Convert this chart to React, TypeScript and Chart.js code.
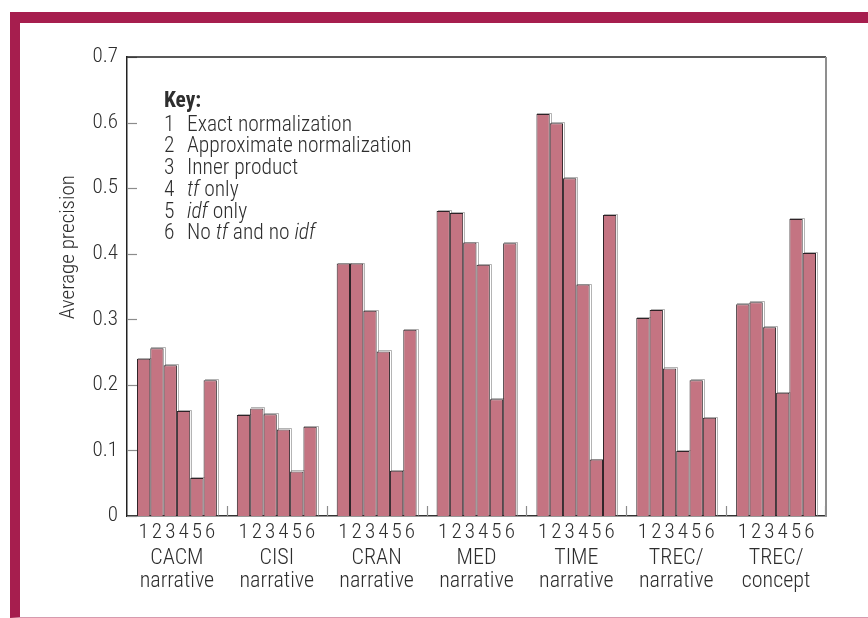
import React, { useEffect, useRef } from "react";
import { Chart, registerables } from "chart.js";

Chart.register(...registerables);

// ---- data ----
const collections = [
  ["CACM", "narrative"],
  ["CISI", "narrative"],
  ["CRAN", "narrative"],
  ["MED", "narrative"],
  ["TIME", "narrative"],
  ["TREC/", "narrative"],
  ["TREC/", "concept"],
];
const methodNumbers = ["1", "2", "3", "4", "5", "6"];
const exactNormalization = [0.24, 0.154, 0.385, 0.465, 0.613, 0.302, 0.323];
const approximateNormalization = [0.256, 0.164, 0.385, 0.462, 0.599, 0.314, 0.326];
const innerProduct = [0.23, 0.155, 0.313, 0.417, 0.515, 0.225, 0.288];
const tfOnly = [0.16, 0.132, 0.251, 0.383, 0.353, 0.099, 0.188];
const idfOnly = [0.058, 0.068, 0.069, 0.178, 0.086, 0.207, 0.453];
const noTfNoIdf = [0.207, 0.136, 0.284, 0.416, 0.459, 0.15, 0.401];
const yMin = 0;
const yMax = 0.7;
const yStep = 0.1;
const yTitle = "Average precision";

const FONT = '"Roboto Condensed", Roboto, sans-serif';
const WEIGHT = 300;
const TEXT = "#2e2e2e";
const BAR_FILL = "#c47482";
const BAR_EDGE = "#2e2327";
const FRAME = "#a61e4e";

const decor = {
  id: "decor",
  beforeDatasetsDraw(chart: any) {
    const { ctx, chartArea: a, scales } = chart;
    const x = scales.x;
    const y = scales.y;
    ctx.save();
    ctx.strokeStyle = "#8c8c8c";
    ctx.lineWidth = 1.2;
    y.ticks.forEach((t: any) => {
      const py = Math.round(y.getPixelForValue(t.value)) + 0.5;
      ctx.beginPath();
      ctx.moveTo(a.left, py);
      ctx.lineTo(a.left + 10, py);
      ctx.stroke();
    });
    const n = chart.data.labels.length;
    for (let i = 1; i <= n; i++) {
      let px: number;
      if (i < n) px = (x.getPixelForValue(i - 1) + x.getPixelForValue(i)) / 2;
      else px = a.right - 1;
      px = Math.round(px) + 0.5;
      ctx.beginPath();
      ctx.moveTo(px, a.bottom);
      ctx.lineTo(px, a.bottom - 10);
      ctx.stroke();
    }
    // soft grey shadow to the upper right of each bar (covered by later bars)
    ctx.strokeStyle = "rgba(130,130,130,0.6)";
    ctx.lineWidth = 1;
    chart.data.datasets.forEach((ds: any, d: number) => {
      const meta = chart.getDatasetMeta(d);
      meta.data.forEach((bar: any) => {
        const rx = Math.round(bar.x + bar.width / 2) + 1.5;
        const ty = Math.round(bar.y) - 0.5;
        ctx.beginPath();
        ctx.moveTo(Math.round(bar.x - bar.width / 2) + 1, ty);
        ctx.lineTo(rx, ty);
        ctx.lineTo(rx, a.bottom);
        ctx.stroke();
      });
    });
    ctx.restore();
  },
  afterDatasetsDraw(chart: any) {
    const { ctx, chartArea: a, scales } = chart;
    const y = scales.y;
    ctx.save();
    // frame top and right
    ctx.strokeStyle = "#222";
    ctx.lineWidth = 1.5;
    ctx.beginPath();
    ctx.moveTo(a.left, a.top);
    ctx.lineTo(a.right, a.top);
    ctx.stroke();
    ctx.strokeStyle = "#8f8f8f";
    ctx.lineWidth = 2;
    ctx.beginPath();
    ctx.moveTo(a.right, a.top);
    ctx.lineTo(a.right, a.bottom);
    ctx.stroke();
    // method numbers under each bar
    ctx.fillStyle = TEXT;
    ctx.font = `${WEIGHT} 21px ${FONT}`;
    ctx.textAlign = "center";
    ctx.textBaseline = "middle";
    chart.data.datasets.forEach((ds: any, d: number) => {
      const meta = chart.getDatasetMeta(d);
      meta.data.forEach((bar: any) => {
        ctx.fillText(methodNumbers[d], bar.x, a.bottom + 17);
      });
    });
    // y-axis title, placed a little above the middle as in the original
    ctx.translate(69, y.getPixelForValue(0.41));
    ctx.rotate(-Math.PI / 2);
    ctx.font = `${WEIGHT} 21px ${FONT}`;
    ctx.fillText(yTitle, 0, 0);
    ctx.restore();
  },
};

export default function App() {
  const ref = useRef<HTMLCanvasElement>(null);
  useEffect(() => {
    if (!ref.current) return;
    const series = [
      exactNormalization,
      approximateNormalization,
      innerProduct,
      tfOnly,
      idfOnly,
      noTfNoIdf,
    ];
    const chart = new Chart(ref.current, {
      type: "bar",
      data: {
        labels: collections,
        datasets: series.map((s, i) => ({
          label: methodNumbers[i],
          data: s,
          backgroundColor: BAR_FILL,
          borderColor: BAR_EDGE,
          borderWidth: 1,
          categoryPercentage: 0.8,
          barPercentage: 1.0,
        })),
      },
      options: {
        responsive: false,
        animation: false,
        devicePixelRatio: 1,
        layout: { padding: { left: 0, top: 57, right: 42, bottom: 0 } },
        plugins: { legend: { display: false }, tooltip: { enabled: false } },
        scales: {
          x: {
            grid: { display: false, drawTicks: false },
            border: { display: true, color: "#333", width: 1.5 },
            ticks: {
              color: TEXT,
              font: { family: FONT, size: 22, weight: WEIGHT, lineHeight: 1.05 },
              padding: 31,
              maxRotation: 0,
              autoSkip: false,
            },
            afterFit: (s: any) => {
              s.height = 102;
            },
          },
          y: {
            min: yMin,
            max: yMax,
            grid: { display: false, drawTicks: false },
            border: { display: true, color: "#222", width: 1.5 },
            ticks: {
              stepSize: yStep,
              color: TEXT,
              font: { family: FONT, size: 21, weight: WEIGHT },
              padding: 9,
            },
            title: { display: false, text: yTitle },
            afterFit: (s: any) => {
              s.width = 127;
            },
          },
        },
      },
      plugins: [decor],
    });
    return () => chart.destroy();
  }, []);

  const keyStyle: React.CSSProperties = {
    position: "absolute",
    left: 164,
    top: 89,
    fontFamily: FONT,
    fontWeight: WEIGHT,
    fontSize: 21.5,
    lineHeight: "21.7px",
    color: TEXT,
    whiteSpace: "nowrap",
  };
  const num: React.CSSProperties = { display: "inline-block", width: 23 };

  return (
    <div>
      <div
        style={{
          position: "absolute",
          left: 10,
          top: 12,
          width: 858,
          height: 606,
          boxSizing: "border-box",
          borderTop: `11px solid ${FRAME}`,
          borderLeft: `10px solid ${FRAME}`,
          borderBottom: "1px solid #d79aae",
          background: "#fff",
        }}
      />
      <canvas
        ref={ref}
        width={868}
        height={618}
        style={{ position: "absolute", left: 0, top: 0, width: 868, height: 618 }}
      />
      <div style={keyStyle}>
        <div style={{ fontWeight: "bold", marginBottom: 2 }}>Key:</div>
        <div><span style={num}>1</span>Exact normalization</div>
        <div><span style={num}>2</span>Approximate normalization</div>
        <div><span style={num}>3</span>Inner product</div>
        <div><span style={num}>4</span><i>tf</i> only</div>
        <div><span style={num}>5</span><i>idf</i> only</div>
        <div><span style={num}>6</span>No <i>tf</i> and no <i>idf</i></div>
      </div>
    </div>
  );
}
